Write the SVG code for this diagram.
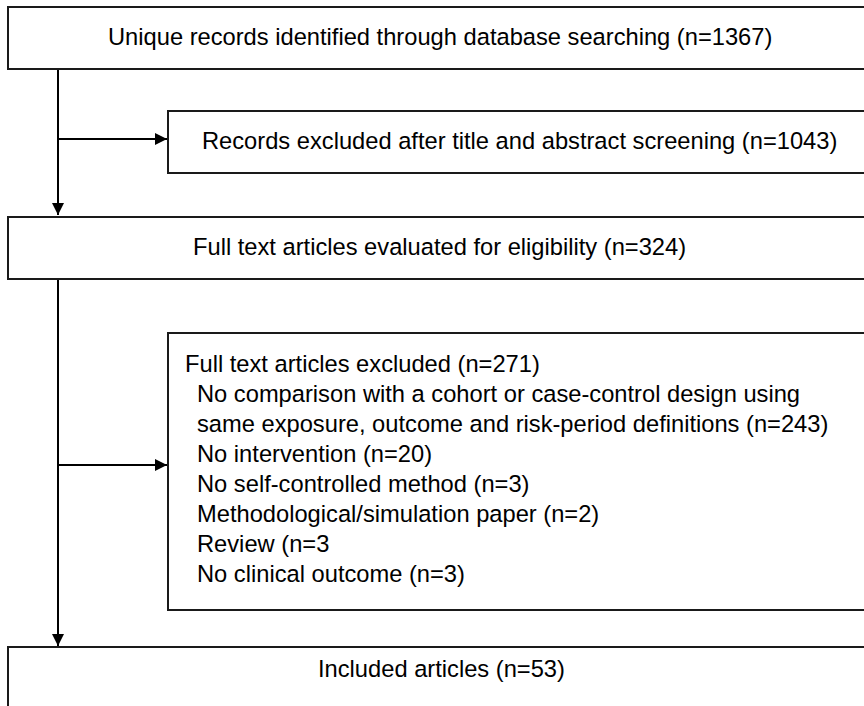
<svg xmlns="http://www.w3.org/2000/svg" width="864" height="706" viewBox="0 0 864 706">
  <style>
    .box { fill: #ffffff; stroke: #1a1a1a; stroke-width: 2; }
    .t { font-family: "Liberation Sans", Arial, sans-serif; font-size: 23.7px; fill: #000000; }
    .conn { fill: none; stroke: #000000; stroke-width: 2; }
  </style>
  <defs>
    <marker id="arr" viewBox="0 0 10 10" refX="10" refY="5" markerWidth="6" markerHeight="6" markerUnits="strokeWidth" orient="auto">
      <path d="M0,0 L10,5 L0,10 Z" fill="#000000"/>
    </marker>
  </defs>
  <rect width="864" height="706" fill="#ffffff"/>

  <g id="connectors">
    <line class="conn" x1="58" y1="69" x2="58" y2="215" marker-end="url(#arr)"/>
    <line class="conn" x1="58" y1="139" x2="167" y2="139" marker-end="url(#arr)"/>
    <line class="conn" x1="58" y1="279" x2="58" y2="646" marker-end="url(#arr)"/>
    <line class="conn" x1="58" y1="465" x2="167" y2="465" marker-end="url(#arr)"/>
  </g>

  <g id="node-identified">
    <rect class="box" x="8" y="7" width="880" height="62"/>
    <text class="t" x="108" y="45">Unique records identified through database searching (n=1367)</text>
  </g>

  <g id="node-excluded-screening">
    <rect class="box" x="168" y="111" width="720" height="62"/>
    <text class="t" x="202" y="149">Records excluded after title and abstract screening (n=1043)</text>
  </g>

  <g id="node-fulltext">
    <rect class="box" x="8" y="217" width="880" height="62"/>
    <text class="t" x="193" y="255">Full text articles evaluated for eligibility (n=324)</text>
  </g>

  <g id="node-fulltext-excluded">
    <rect class="box" x="168" y="333" width="720" height="277"/>
    <text class="t" x="185" y="372">Full text articles excluded (n=271)</text>
    <text class="t" x="197" y="402">No comparison with a cohort or case-control design using</text>
    <text class="t" x="197" y="432">same exposure, outcome and risk-period definitions (n=243)</text>
    <text class="t" x="197" y="462">No intervention (n=20)</text>
    <text class="t" x="197" y="492">No self-controlled method (n=3)</text>
    <text class="t" x="197" y="522">Methodological/simulation paper (n=2)</text>
    <text class="t" x="197" y="552">Review (n=3</text>
    <text class="t" x="197" y="582">No clinical outcome (n=3)</text>
  </g>

  <g id="node-included">
    <rect class="box" x="8" y="647" width="880" height="80"/>
    <text class="t" x="318" y="677">Included articles (n=53)</text>
  </g>
</svg>
